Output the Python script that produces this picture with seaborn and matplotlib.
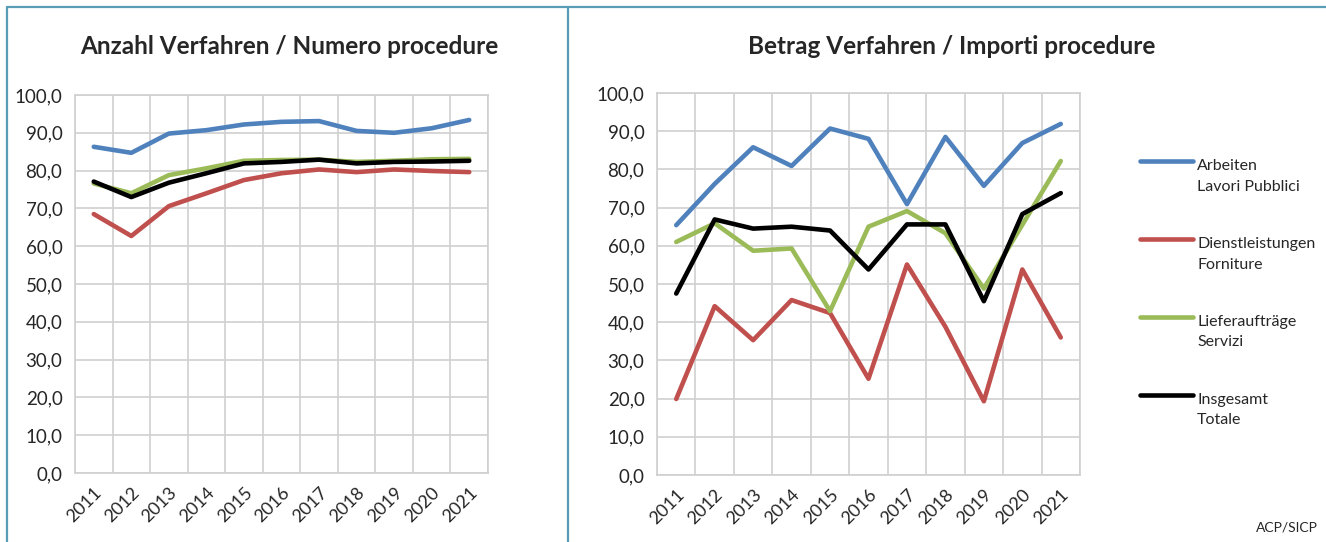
import matplotlib

matplotlib.use("Agg")
import matplotlib.pyplot as plt
import numpy as np
import pandas as pd
import seaborn as sns
from matplotlib.legend_handler import HandlerLine2D
from matplotlib.lines import Line2D
from matplotlib.ticker import FuncFormatter, MultipleLocator

years = list(range(2011, 2022))
series = [
    "Arbeiten\nLavori Pubblici",
    "Dienstleistungen\nForniture",
    "Lieferaufträge\nServizi",
    "Insgesamt\nTotale",
]
colors = ["#4F81BD", "#C0504D", "#9BBB59", "#000000"]

# Anzahl Verfahren / Numero procedure
count_arbeiten = [86.3, 84.7, 89.8, 90.7, 92.2, 92.9, 93.1, 90.5, 90.0, 91.2, 93.4]
count_dienst = [68.5, 62.7, 70.6, 74.0, 77.5, 79.3, 80.3, 79.6, 80.3, 79.9, 79.6]
count_liefer = [76.6, 74.0, 78.8, 80.6, 82.6, 82.8, 82.9, 82.3, 82.6, 83.0, 83.1]
count_total = [77.1, 73.0, 76.8, 79.3, 81.9, 82.3, 82.9, 81.9, 82.3, 82.4, 82.6]

# Betrag Verfahren / Importi procedure
amount_arbeiten = [65.4, 76.2, 85.8, 80.9, 90.7, 88.0, 70.9, 88.5, 75.7, 86.9, 91.9]
amount_dienst = [19.9, 44.2, 35.3, 45.8, 42.4, 25.2, 55.1, 38.8, 19.3, 53.8, 36.0]
amount_liefer = [61.0, 65.9, 58.7, 59.3, 42.9, 65.0, 69.1, 63.3, 48.8, 65.5, 82.2]
amount_total = [47.5, 66.9, 64.5, 65.0, 64.0, 53.8, 65.6, 65.6, 45.5, 68.3, 73.8]


def long_frame(values):
    rows = []
    for name, vals in zip(series, values):
        for y, v in zip(years, vals):
            rows.append({"Jahr": y, "Wert": v, "Typ": name})
    return pd.DataFrame(rows)


df_count = long_frame([count_arbeiten, count_dienst, count_liefer, count_total])
df_amount = long_frame([amount_arbeiten, amount_dienst, amount_liefer, amount_total])

sns.set_style("white")
plt.rcParams["font.family"] = ["Lato", "DejaVu Sans"]

fig = plt.figure(figsize=(13.26, 5.42), dpi=100)
W, H = 1326, 542


def px_axes(x0, y0, x1, y1):
    return fig.add_axes([x0 / W, 1 - y1 / H, (x1 - x0) / W, (y1 - y0) / H])


ax1 = px_axes(75, 95, 488, 473)
ax2 = px_axes(657, 93, 1080, 475)

grid_c = "#D0D0D0"
lw = 3.3
for ax, df in [(ax1, df_count), (ax2, df_amount)]:
    sns.lineplot(
        data=df, x="Jahr", y="Wert", hue="Typ", hue_order=series,
        palette=colors, linewidth=lw, legend=False, ax=ax,
    )
    ax.set_xlim(2010.5, 2021.5)
    ax.set_ylim(0, 100)
    ax.set_xticks(years)
    ax.set_xticklabels([str(y) for y in years], rotation=45, ha="right",
                       rotation_mode="anchor", fontsize=13)
    ax.set_xticks(np.arange(2010.5, 2022, 1.0), minor=True)
    ax.yaxis.set_major_locator(MultipleLocator(10))
    ax.yaxis.set_major_formatter(FuncFormatter(lambda v, p: f"{v:.1f}".replace(".", ",")))
    ax.tick_params(axis="y", labelsize=13.5, length=0, pad=9)
    ax.tick_params(axis="x", which="both", length=0, pad=8)
    ax.grid(False)
    ax.grid(True, axis="y", which="major", color=grid_c, linewidth=1.2)
    ax.grid(True, axis="x", which="minor", color=grid_c, linewidth=1.2)
    ax.set_axisbelow(True)
    for s in ax.spines.values():
        s.set_color(grid_c)
        s.set_linewidth(1.2)
    ax.set_xlabel("")
    ax.set_ylabel("")

fig.text(289 / W, 1 - 46 / H, "Anzahl Verfahren / Numero procedure",
         ha="center", va="center", fontsize=17.5, fontweight="bold")
fig.text(952 / W, 1 - 46 / H, "Betrag Verfahren / Importi procedure",
         ha="center", va="center", fontsize=17.5, fontweight="bold")


class TopLine(HandlerLine2D):
    def create_artists(self, legend, orig_handle, xdescent, ydescent,
                       width, height, fontsize, trans):
        arts = super().create_artists(legend, orig_handle, xdescent, ydescent,
                                      width, height, fontsize, trans)
        for a in arts:
            a.set_ydata(np.asarray(a.get_ydata()) + fontsize * 0.95)
        return arts


handles = [Line2D([], [], color=c, linewidth=lw, solid_capstyle="round") for c in colors]
leg = fig.legend(
    handles, series, loc="upper left", bbox_to_anchor=(1126 / W, 1 - 145 / H),
    frameon=False, fontsize=11.5, handlelength=3.3, handletextpad=0.25,
    labelspacing=2.7, handler_map={Line2D: TopLine()},
)
for t in leg.get_texts():
    t.set_linespacing(1.6)

fig.text(1318 / W, 1 - 528 / H, "ACP/SICP", ha="right", va="center", fontsize=10)

# panel frame lines
frame_c = "#5A9BB5"
fig.add_artist(Line2D([7 / W, 1], [1 - 7 / H, 1 - 7 / H], color=frame_c, linewidth=1.6))
fig.add_artist(Line2D([7 / W, 7 / W], [0, 1 - 7 / H], color=frame_c, linewidth=1.6))
fig.add_artist(Line2D([568 / W, 568 / W], [0, 1 - 7 / H], color=frame_c, linewidth=1.6))

fig.savefig("out.png", dpi=100)
